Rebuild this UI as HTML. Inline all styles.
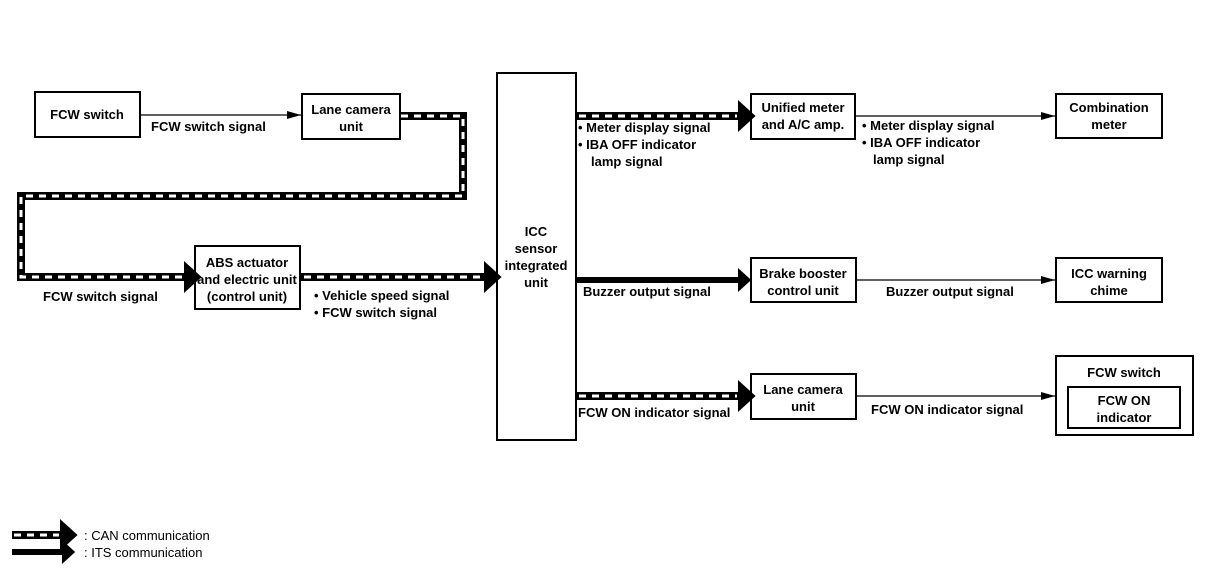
<!DOCTYPE html>
<html><head><meta charset="utf-8"><style>
html,body{margin:0;padding:0;background:#fff;}
svg text{font-family:"Liberation Sans",Arial,sans-serif;font-size:13px;font-weight:bold;fill:#000;}
</style></head><body>
<svg width="1216" height="582" viewBox="0 0 1216 582" xmlns="http://www.w3.org/2000/svg">
<defs>
<marker id="big" markerWidth="4" markerHeight="4" refX="0" refY="2" orient="auto" markerUnits="strokeWidth">
<path d="M0,0 L2.2,2 L0,4 z" fill="#000"/></marker>
<marker id="sm" markerWidth="14" markerHeight="10" refX="14" refY="5" orient="auto" markerUnits="userSpaceOnUse">
<path d="M0,1 L14,5 L0,9 z" fill="#000"/></marker>
</defs>
<g fill="none" stroke="#000" stroke-width="2">
<rect x="35" y="92" width="105" height="45"/>
<rect x="302" y="94" width="98" height="45"/>
<rect x="195" y="246" width="105" height="63"/>
<rect x="497" y="73" width="79" height="367"/>
<rect x="751" y="94" width="104" height="45"/>
<rect x="1056" y="94" width="106" height="44"/>
<rect x="751" y="258" width="105" height="44"/>
<rect x="1056" y="258" width="106" height="44"/>
<rect x="751" y="374" width="105" height="45"/>
<rect x="1056" y="356" width="137" height="79"/>
<rect x="1068" y="387" width="112" height="41"/>
</g>
<!-- thin arrows -->
<g stroke="#000" stroke-width="1.3" fill="none">
<line x1="140" y1="115" x2="301" y2="115" marker-end="url(#sm)"/>
<line x1="855" y1="116" x2="1055" y2="116" marker-end="url(#sm)"/>
<line x1="856" y1="280" x2="1055" y2="280" marker-end="url(#sm)"/>
<line x1="856" y1="396" x2="1055" y2="396" marker-end="url(#sm)"/>
</g>
<!-- CAN lines -->
<g fill="none" stroke-linejoin="miter">
<polyline points="401,116 463,116 463,196 21,196 21,277 183,277" stroke="#000" stroke-width="8"/>
<polyline points="401,116 463,116 463,196 21,196 21,277 183,277" stroke="#fff" stroke-width="3" stroke-dasharray="7,6"/>
<line x1="183" y1="277" x2="184" y2="277" stroke="#000" stroke-width="8" marker-end="url(#big)"/>
<line x1="300" y1="277" x2="484" y2="277" stroke="#000" stroke-width="8"/>
<line x1="304" y1="277" x2="484" y2="277" stroke="#fff" stroke-width="3" stroke-dasharray="7,6"/>
<line x1="483" y1="277" x2="484" y2="277" stroke="#000" stroke-width="8" marker-end="url(#big)"/>
<line x1="576" y1="116" x2="738" y2="116" stroke="#000" stroke-width="8"/>
<line x1="579" y1="116" x2="738" y2="116" stroke="#fff" stroke-width="3" stroke-dasharray="7,6"/>
<line x1="737" y1="116" x2="738" y2="116" stroke="#000" stroke-width="8" marker-end="url(#big)"/>
<line x1="576" y1="396" x2="738" y2="396" stroke="#000" stroke-width="8"/>
<line x1="579" y1="396" x2="738" y2="396" stroke="#fff" stroke-width="3" stroke-dasharray="7,6"/>
<line x1="737" y1="396" x2="738" y2="396" stroke="#000" stroke-width="8" marker-end="url(#big)"/>
<!-- ITS -->
<line x1="576" y1="280" x2="738" y2="280" stroke="#000" stroke-width="6" marker-end="url(#big)"/>
<!-- legend -->
<line x1="12" y1="535" x2="60" y2="535" stroke="#000" stroke-width="8"/>
<line x1="14" y1="535" x2="60" y2="535" stroke="#fff" stroke-width="3" stroke-dasharray="7,6"/>
<line x1="59" y1="535" x2="60" y2="535" stroke="#000" stroke-width="8" marker-end="url(#big)"/>
<line x1="12" y1="552" x2="62" y2="552" stroke="#000" stroke-width="6" marker-end="url(#big)"/>
</g>
<g text-anchor="middle">
<text x="87" y="119">FCW switch</text>
<text x="351" y="114">Lane camera</text>
<text x="351" y="131">unit</text>
<text x="247" y="267">ABS actuator</text>
<text x="247" y="284">and electric unit</text>
<text x="247" y="301">(control unit)</text>
<text x="536" y="236">ICC</text>
<text x="536" y="253">sensor</text>
<text x="536" y="270">integrated</text>
<text x="536" y="287">unit</text>
<text x="803" y="112">Unified meter</text>
<text x="803" y="129">and A/C amp.</text>
<text x="1109" y="112">Combination</text>
<text x="1109" y="129">meter</text>
<text x="803" y="278">Brake booster</text>
<text x="803" y="295">control unit</text>
<text x="1109" y="278">ICC warning</text>
<text x="1109" y="295">chime</text>
<text x="803" y="394">Lane camera</text>
<text x="803" y="411">unit</text>
<text x="1124" y="377">FCW switch</text>
<text x="1124" y="405">FCW ON</text>
<text x="1124" y="422">indicator</text>
</g>
<text x="151" y="131">FCW switch signal</text>
<text x="43" y="301">FCW switch signal</text>
<text x="314" y="300">• Vehicle speed signal</text>
<text x="314" y="317">• FCW switch signal</text>
<text x="578" y="132">• Meter display signal</text>
<text x="578" y="149">• IBA OFF indicator</text>
<text x="591" y="166">lamp signal</text>
<text x="862" y="130">• Meter display signal</text>
<text x="862" y="147">• IBA OFF indicator</text>
<text x="873" y="164">lamp signal</text>
<text x="583" y="296">Buzzer output signal</text>
<text x="886" y="296">Buzzer output signal</text>
<text x="578" y="417">FCW ON indicator signal</text>
<text x="871" y="414">FCW ON indicator signal</text>
<text x="84" y="540" style="font-weight:normal">: CAN communication</text>
<text x="84" y="557" style="font-weight:normal">: ITS communication</text>
</svg>
</body></html>
